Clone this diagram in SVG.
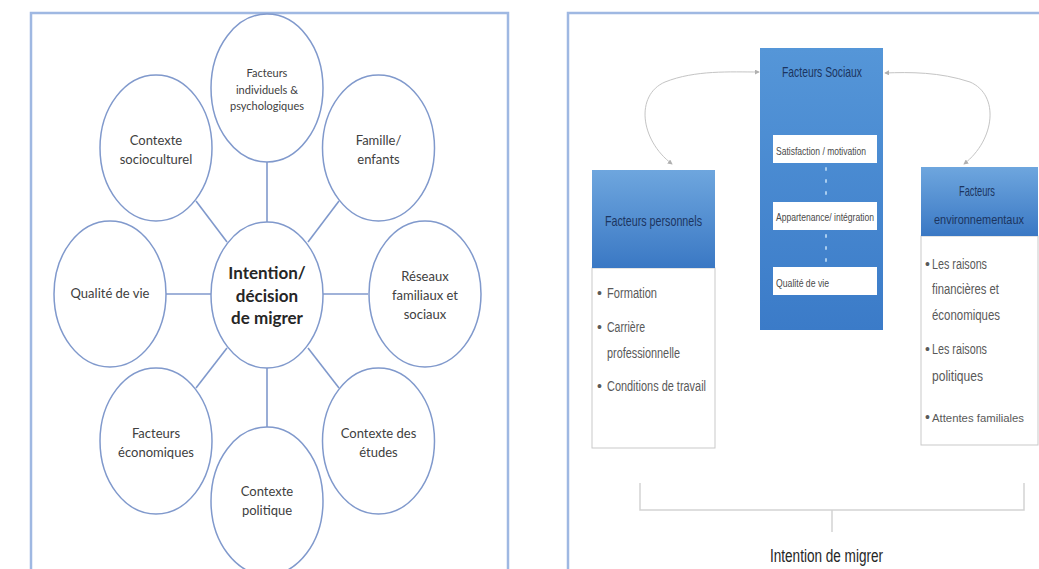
<svg xmlns="http://www.w3.org/2000/svg" width="1039" height="569" viewBox="0 0 1039 569">
<defs>
<linearGradient id="hdr" x1="0" y1="0" x2="0" y2="1"><stop offset="0" stop-color="#6ea6de"/><stop offset="1" stop-color="#3a78c4"/></linearGradient>
<linearGradient id="soc" x1="0" y1="0" x2="0" y2="1"><stop offset="0" stop-color="#5596d8"/><stop offset="1" stop-color="#3b7bc8"/></linearGradient>
<marker id="ah" viewBox="0 0 6 6" refX="5" refY="3" markerWidth="5" markerHeight="5" orient="auto-start-reverse"><path d="M0,0 L6,3 L0,6 z" fill="#b0b0b0"/></marker>
<style>
.frame{fill:none;stroke:#9fb8e2;stroke-width:2.5}
.ell{fill:#fff;stroke:#8099cc;stroke-width:1.5}
.ln{stroke:#8099cc;stroke-width:1.6;fill:none}
.t{font-family:Lato,"Liberation Sans",sans-serif;fill:#404040;text-anchor:middle}
.s13{font-size:13px}
.s11{font-size:11px}
.big{font-size:17px;font-weight:bold;fill:#262626}
.c{font-family:"Liberation Sans",Lato,sans-serif}
.hd{fill:#1c3560;font-size:15px}
.wb{fill:#fff}
.wt{fill:#4a4a4a;font-size:11px;text-anchor:start}
.bl{font-family:"Liberation Sans",Lato,sans-serif;fill:#595959;font-size:14px}
.body{fill:#fff;stroke:#c9c9c9;stroke-width:1}
.curve{fill:none;stroke:#c4c4c4;stroke-width:1}
.br{fill:none;stroke:#d3d3d3;stroke-width:1.5}
</style>
</defs>
<rect width="1039" height="569" fill="#fff"/>

<!-- LEFT PANEL -->
<path class="frame" d="M31,575 V13 H508 V575"/>
<g id="connectors-left">
<line class="ln" x1="267" y1="162" x2="267" y2="222"/>
<line class="ln" x1="196" y1="201" x2="227" y2="242"/>
<line class="ln" x1="339" y1="201" x2="308" y2="242"/>
<line class="ln" x1="166" y1="294" x2="211" y2="294"/>
<line class="ln" x1="323" y1="294" x2="368" y2="294"/>
<line class="ln" x1="227" y1="348" x2="196" y2="388"/>
<line class="ln" x1="308" y1="348" x2="339" y2="388"/>
<line class="ln" x1="267" y1="368" x2="267" y2="427"/>
</g>
<g id="n-individuels"><ellipse class="ell" cx="267" cy="88" rx="56" ry="74"/>
<text class="t s11" x="267" y="77">Facteurs</text><text class="t s11" x="267" y="94">individuels &amp;</text><text class="t s11" x="267" y="110">psychologiques</text></g>
<g id="n-socioculturel"><ellipse class="ell" cx="156" cy="148" rx="56" ry="73"/>
<text class="t s13" x="156" y="145">Contexte</text><text class="t s13" x="156" y="164">socioculturel</text></g>
<g id="n-famille"><ellipse class="ell" cx="378.5" cy="148" rx="56" ry="73"/>
<text class="t s13" x="378.5" y="145">Famille/</text><text class="t s13" x="378.5" y="164">enfants</text></g>
<g id="n-centre"><ellipse class="ell" cx="267" cy="295" rx="56" ry="73"/>
<text class="t big" x="267" y="279">Intention/</text><text class="t big" x="267" y="302">décision</text><text class="t big" x="267" y="324">de migrer</text></g>
<g id="n-qualite"><ellipse class="ell" cx="110" cy="294" rx="56" ry="73"/>
<text class="t s13" x="110" y="298">Qualité de vie</text></g>
<g id="n-reseaux"><ellipse class="ell" cx="425" cy="294" rx="56" ry="73"/>
<text class="t s13" x="425" y="281">Réseaux</text><text class="t s13" x="425" y="300">familiaux et</text><text class="t s13" x="425" y="319">sociaux</text></g>
<g id="n-economiques"><ellipse class="ell" cx="156" cy="441" rx="56" ry="73"/>
<text class="t s13" x="156" y="438">Facteurs</text><text class="t s13" x="156" y="457">économiques</text></g>
<g id="n-etudes"><ellipse class="ell" cx="378.5" cy="441" rx="56" ry="73"/>
<text class="t s13" x="378.5" y="438">Contexte des</text><text class="t s13" x="378.5" y="457">études</text></g>
<g id="n-politique"><ellipse class="ell" cx="267" cy="501" rx="56" ry="74"/>
<text class="t s13" x="267" y="496">Contexte</text><text class="t s13" x="267" y="515">politique</text></g>

<!-- RIGHT PANEL -->
<path class="frame" d="M568,575 V13 H1045"/>
<g id="connectors-right">
<path class="curve" d="M672,164 C640,140 635,95 665,82 C695,70 730,72 759,72" marker-start="url(#ah)" marker-end="url(#ah)"/>
<path class="curve" d="M964,164 C995,140 1000,95 970,82 C940,72 910,72 885,73" marker-start="url(#ah)" marker-end="url(#ah)"/>
<path class="br" d="M640,483 V510 H1024 V483 M832,510 V532"/>
</g>
<g id="n-sociaux">
<rect x="760" y="48" width="123" height="282" fill="url(#soc)"/>
<text class="t c hd" x="822" y="77" textLength="80" lengthAdjust="spacingAndGlyphs">Facteurs Sociaux</text>
<g stroke="#a9cdef" stroke-width="2" stroke-dasharray="2,10" stroke-linecap="round">
<line x1="826" y1="168" x2="826" y2="200"/><line x1="826" y1="235" x2="826" y2="265"/></g>
<rect class="wb" x="773" y="135" width="104" height="28"/>
<text class="c wt" x="776" y="155" textLength="90" lengthAdjust="spacingAndGlyphs">Satisfaction / motivation</text>
<rect class="wb" x="773" y="202" width="104" height="28"/>
<text class="c wt" x="776" y="221" textLength="98" lengthAdjust="spacingAndGlyphs">Appartenance/ intégration</text>
<rect class="wb" x="773" y="267" width="104" height="28"/>
<text class="c wt" x="776" y="287" textLength="53" lengthAdjust="spacingAndGlyphs">Qualité de vie</text>
</g>
<g id="n-personnels">
<rect class="body" x="592" y="268" width="123" height="180"/>
<rect x="592" y="170" width="123" height="98" fill="url(#hdr)"/>
<text class="t c hd" x="653.5" y="226" textLength="97" lengthAdjust="spacingAndGlyphs">Facteurs personnels</text>
<text class="bl" x="597" y="298">•</text><text class="bl" x="607" y="298" textLength="50" lengthAdjust="spacingAndGlyphs">Formation</text>
<text class="bl" x="597" y="332">•</text><text class="bl" x="607" y="332" textLength="38" lengthAdjust="spacingAndGlyphs">Carrière</text>
<text class="bl" x="607" y="358" textLength="73" lengthAdjust="spacingAndGlyphs">professionnelle</text>
<text class="bl" x="597" y="391">•</text><text class="bl" x="607" y="391" textLength="99" lengthAdjust="spacingAndGlyphs">Conditions de travail</text>
</g>
<g id="n-environnementaux">
<rect class="body" x="921" y="236" width="117" height="209"/>
<rect x="921" y="167" width="117" height="69" fill="url(#hdr)"/>
<text class="t c hd" x="977" y="196" textLength="36" lengthAdjust="spacingAndGlyphs">Facteurs</text>
<text class="t c hd" x="979" y="224" style="font-size:12.5px" textLength="90" lengthAdjust="spacingAndGlyphs">environnementaux</text>
<text class="bl" x="925" y="269">•</text><text class="bl" x="932" y="269" textLength="55" lengthAdjust="spacingAndGlyphs">Les raisons</text>
<text class="bl" x="932" y="294" textLength="67" lengthAdjust="spacingAndGlyphs">financières et</text>
<text class="bl" x="932" y="320" textLength="68" lengthAdjust="spacingAndGlyphs">économiques</text>
<text class="bl" x="925" y="354">•</text><text class="bl" x="932" y="354" textLength="55" lengthAdjust="spacingAndGlyphs">Les raisons</text>
<text class="bl" x="932" y="381" textLength="51" lengthAdjust="spacingAndGlyphs">politiques</text>
<text class="bl" x="925" y="422">•</text><text class="bl" x="932" y="422" style="font-size:11.5px" textLength="92" lengthAdjust="spacingAndGlyphs">Attentes familiales</text>
</g>
<g id="n-intention">
<text x="826.5" y="562" font-family="'Liberation Sans',Lato,sans-serif" font-size="18" fill="#262626" text-anchor="middle" textLength="113" lengthAdjust="spacingAndGlyphs">Intention de migrer</text>
</g>
</svg>
